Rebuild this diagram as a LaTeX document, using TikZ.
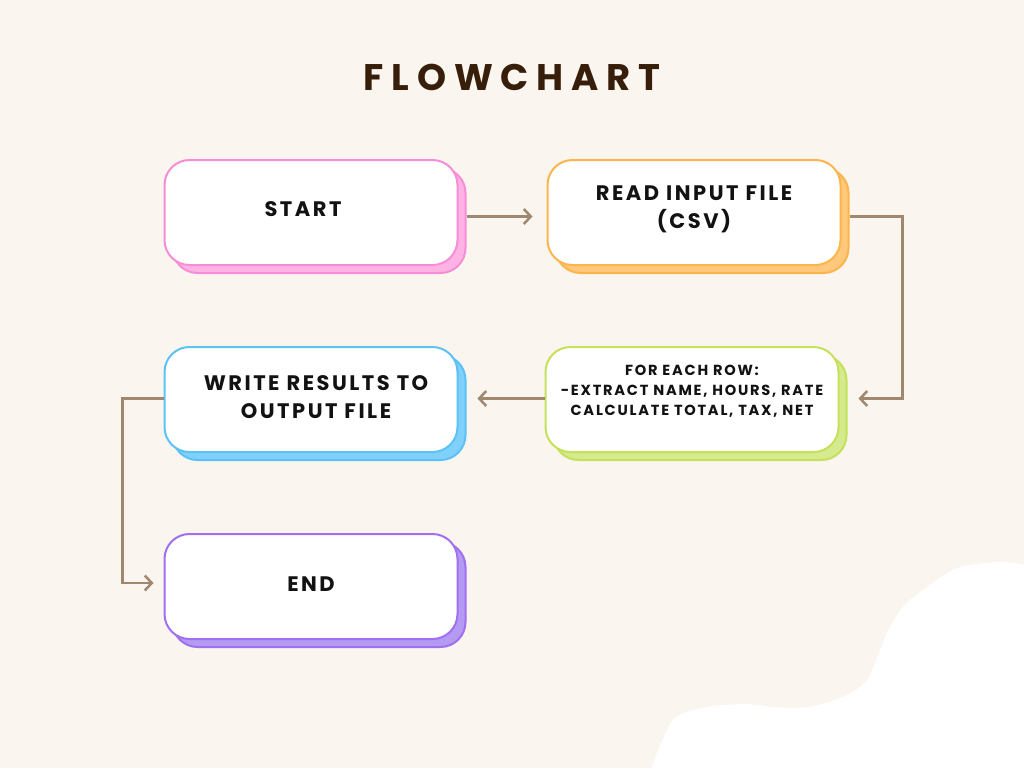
\documentclass[tikz,border=0pt]{standalone}
\usepackage{fontspec}
\setmainfont{Poppins}
\newfontfamily\titlefont{Poppins}[LetterSpace=21]
\newfontfamily\boxfont{Poppins}[LetterSpace=12]
\usetikzlibrary{positioning, arrows.meta}

\definecolor{bgc}{HTML}{FAF5EF}
\definecolor{arrowc}{HTML}{A08770}
\definecolor{titlec}{HTML}{371E0A}
\definecolor{pinkline}{HTML}{F78DD6}
\definecolor{pinkfill}{HTML}{FFB3E4}
\definecolor{orangeline}{HTML}{FBB54C}
\definecolor{orangefill}{HTML}{FFC87A}
\definecolor{greenline}{HTML}{C5E15A}
\definecolor{greenfill}{HTML}{D5E98E}
\definecolor{blueline}{HTML}{5CC2F5}
\definecolor{bluefill}{HTML}{7FD0FA}
\definecolor{purpleline}{HTML}{A070F0}
\definecolor{purplefill}{HTML}{B49AF2}

\begin{document}
\begin{tikzpicture}[x=0.5pt, y=-0.5pt, >={Straight Barb[length=3.5pt, width=7.5pt]}]
    \tikzstyle{box} = [rectangle, rounded corners=12.5pt, draw=#1line, fill=white, line width=1pt,
        minimum width=146.5pt, minimum height=52.5pt,
        preaction={draw=#1line, fill=#1fill, transform canvas={shift={(4pt,-4pt)}}}]
    \tikzstyle{txt} = [font=\boxfont\bfseries\fontsize{10.5}{13.75}\selectfont, align=center, text=black!93]
    \tikzstyle{flow} = [->, draw=arrowc, line width=1.25pt]

    % background and corner blob
    \fill[bgc] (0,0) rectangle (1024,768);
    \useasboundingbox (0,0) rectangle (1024,768);
    \fill[white] plot[smooth] coordinates {(650,772) (673,720) (707,707) (747,704) (773,707)
        (807,707) (840,698) (867,680) (887,633) (903,607) (923,590) (957,568) (1000,562) (1026,565)}
        -- (1026,772) -- cycle;

    \node[font=\titlefont\bfseries\fontsize{18.5}{22}\selectfont, text=titlec] (title) at (512,77) {FLOWCHART};

    \node [box=pink] (start) at (311,212.5) {};
    \node [box=orange, right=44pt of start] (read) {};
    \node [box=green, below=40pt of read, xshift=-1pt] (each) {};
    \node [box=blue, below=40pt of start] (write) {};
    \node [box=purple, below=40pt of write] (end) {};

    \node [txt] (starttxt) at ([shift={(-4pt,1.75pt)}]start.center) {START};
    \node [txt] (readtxt) at ([yshift=1.5pt]read.center) {READ INPUT FILE\\(CSV)};
    \node [txt, font=\boxfont\bfseries\fontsize{7.3}{10}\selectfont] (eachtxt) at ([yshift=4.25pt]each.center)
        {FOR EACH ROW:\\-EXTRACT NAME, HOURS, RATE\\CALCULATE TOTAL, TAX, NET};
    \node [txt] (writetxt) at ([shift={(2.5pt,1.25pt)}]write.center) {WRITE RESULTS TO\\OUTPUT FILE};
    \node [txt] (endtxt) at ([yshift=1.25pt]end.center) {END};

    \draw [flow] ([shift={(8,4)}]start.east) -- ([shift={(-14,4)}]read.west);
    \draw [flow] ([shift={(8,4)}]read.east) -- ++(53,0) |- ([shift={(19,-1)}]each.east);
    \draw [flow] ([yshift=0.5pt]each.west) -- ([shift={(19,-1)}]write.east);
    \draw [flow] ([yshift=0.5pt]write.west) -- ++(-41,0) |- ([shift={(-10,-3.5)}]end.west);
\end{tikzpicture}
\end{document}
